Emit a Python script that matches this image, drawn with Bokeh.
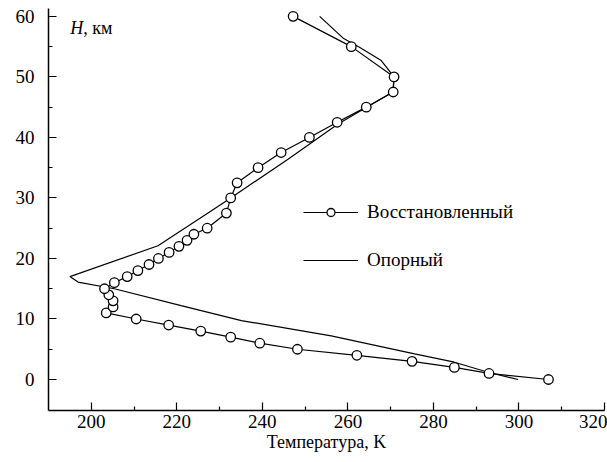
from bokeh.plotting import figure
from bokeh.models import Range1d, Label, Legend, LegendItem, FixedTicker
from bokeh.embed import file_html
from bokeh.resources import INLINE

# Restored profile (circles)
H_rest = [0, 1, 2, 3, 4, 5, 6, 7, 8, 9, 10, 11, 12, 13, 14, 15, 16, 17, 18, 19, 20,
          21, 22, 23, 24, 25, 27.5, 30, 32.5, 35, 37.5, 40, 42.5, 45, 47.5, 50, 55, 60]
T_rest = [306.9, 293.0, 284.9, 275.0, 262.1, 248.2, 239.4, 232.6, 225.6, 218.1, 210.5,
          203.5, 205.1, 205.1, 204.1, 203.1, 205.4, 208.4, 210.9, 213.5, 215.7,
          218.2, 220.5, 222.4, 224.0, 227.1, 231.6, 232.6, 234.1, 239.0, 244.4,
          251.0, 257.5, 264.3, 270.6, 270.8, 260.8, 247.2]

# Reference profile (line)
H_ref = [0, 1.2, 2.86, 4.24, 7.2, 9.74, 12.2, 15.0, 16.1, 17.0, 22.1, 27.9, 30.0,
         36.4, 42.2, 47.5, 50.0, 52.7, 54.9, 56.4, 60.0]
T_ref = [299.8, 292.8, 284.9, 275.6, 256.1, 235.1, 221.0, 205.4, 196.9, 195.0, 215.6,
         228.1, 232.6, 246.0, 257.7, 270.5, 270.8, 267.8, 262.7, 258.9, 253.4]

x_ticks = [200, 220, 240, 260, 280, 300, 320]
y_ticks = [0, 10, 20, 30, 40, 50, 60]

label_rest = "Восстановленный"
label_ref = "Опорный"
x_title = "Температура, K"

FONT = "Liberation Serif"

p = figure(width=607, height=462, output_backend="svg", toolbar_location=None,
           x_range=Range1d(190, 320), y_range=Range1d(-5.12, 61.3),
           min_border_left=48, min_border_right=3, min_border_top=8, min_border_bottom=52)
p.outline_line_color = None
p.grid.visible = False
p.background_fill_color = "white"
p.border_fill_color = "white"

r_ref = p.line(T_ref, H_ref, line_color="black", line_width=1.2)
r_rest_line = p.line(T_rest, H_rest, line_color="black", line_width=1.2)
r_rest_pts = p.scatter(T_rest, H_rest, marker="circle", size=9.5, fill_color="white",
                       line_color="black", line_width=1.3)

for ax in (p.xaxis[0], p.yaxis[0]):
    ax.axis_line_width = 1.5
    ax.axis_line_color = "black"
    ax.major_tick_in = 8
    ax.major_tick_out = 0
    ax.minor_tick_in = 4
    ax.minor_tick_out = 0
    ax.major_tick_line_color = "black"
    ax.minor_tick_line_color = "black"
    ax.major_tick_line_width = 1.2
    ax.minor_tick_line_width = 1.2
    ax.major_label_text_font = FONT
    ax.major_label_text_font_size = "19px"
    ax.major_label_text_color = "black"

p.xaxis.ticker = FixedTicker(ticks=x_ticks, minor_ticks=[210, 230, 250, 270, 290, 310])
p.yaxis.ticker = FixedTicker(ticks=y_ticks, minor_ticks=[5, 15, 25, 35, 45, 55])
p.xaxis.major_label_standoff = 4
p.yaxis.major_label_standoff = 14

p.xaxis.axis_label = x_title
p.xaxis.axis_label_text_font = FONT
p.xaxis.axis_label_text_font_size = "18px"
p.xaxis.axis_label_text_font_style = "normal"
p.xaxis.axis_label_text_color = "black"
p.xaxis.axis_label_standoff = 1

# "H, км" label inside the plot
p.add_layout(Label(x=195.1, y=58.0, text="H", text_font=FONT, text_font_style="italic",
                   text_font_size="18px", text_baseline="alphabetic", text_color="black"))
p.add_layout(Label(x=195.1, y=58.0, x_offset=13, text=", км", text_font=FONT,
                   text_font_size="18px", text_baseline="alphabetic", text_color="black"))

legend = Legend(items=[LegendItem(label=label_rest, renderers=[r_rest_line, r_rest_pts]),
                       LegendItem(label=label_ref, renderers=[r_ref])],
                location=(255, 139), orientation="vertical",
                glyph_width=55, glyph_height=20, label_height=20, spacing=26,
                padding=0, margin=0, label_standoff=9,
                label_text_font=FONT, label_text_font_size="19px",
                label_text_color="black",
                border_line_color=None, background_fill_alpha=0)
p.add_layout(legend, "center")

open("out.html", "w").write(file_html(p, INLINE))
